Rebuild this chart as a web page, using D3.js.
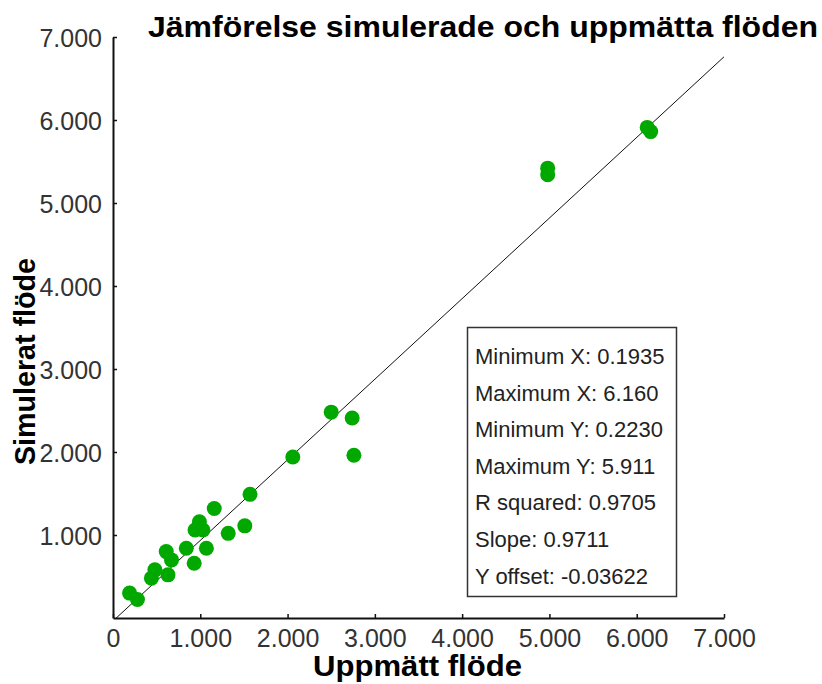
<!DOCTYPE html>
<html>
<head>
<meta charset="utf-8">
<script src="https://cdn.jsdelivr.net/npm/d3@7"></script>
<style>
  body { margin: 0; background: #fff; }
  svg text { font-family: "Liberation Sans", Arial, sans-serif; }
</style>
</head>
<body>
<div id="chart"></div>
<script>
"use strict";

// measured (x) vs simulated (y) flows
const measured = [0.19, 0.28, 0.44, 0.48, 0.63, 0.61, 0.67, 0.84, 0.93, 1.07, 0.94, 0.99, 1.03, 1.16,
  1.32, 1.51, 1.57, 2.06, 2.50, 2.74, 2.76, 4.98, 4.98, 6.12, 6.16];
const simulated = [0.30, 0.223, 0.48, 0.58, 0.52, 0.80, 0.70, 0.84, 0.66, 0.84, 1.06, 1.16, 1.06, 1.32,
  1.02, 1.11, 1.49, 1.94, 2.48, 2.41, 1.96, 5.42, 5.34, 5.911, 5.86];
const xTicks = [0, 1, 2, 3, 4, 5, 6, 7];
const yTicks = [1, 2, 3, 4, 5, 6, 7];
const fitSlope = 0.9711;
const fitOffset = -0.03622;
const statLines = [
  "Minimum X: 0.1935",
  "Maximum X: 6.160",
  "Minimum Y: 0.2230",
  "Maximum Y: 5.911",
  "R squared: 0.9705",
  "Slope: 0.9711",
  "Y offset: -0.03622"
];

const w = 822, h = 684;
const svg = d3.select("#chart").append("svg").attr("width", w).attr("height", h);

const x = d3.scaleLinear().domain([0, 7]).range([113, 724]);
const y = d3.scaleLinear().domain([0, 7]).range([618, 37]);
const fmt = (v) => (v === 0 ? "0" : d3.format(".3f")(v));

svg.append("defs").append("clipPath").attr("id", "plot")
  .append("rect").attr("x", x(0)).attr("y", y(7)).attr("width", x(7) - x(0)).attr("height", y(0) - y(7));

// regression line
svg.append("line")
  .attr("clip-path", "url(#plot)")
  .attr("x1", x(0)).attr("y1", y(fitOffset))
  .attr("x2", x(7)).attr("y2", y(fitSlope * 7 + fitOffset))
  .attr("stroke", "#111").attr("stroke-width", 1);

// points
svg.append("g").selectAll("circle")
  .data(measured.map((m, i) => [m, simulated[i]]))
  .enter().append("circle")
  .attr("cx", (d) => x(d[0]))
  .attr("cy", (d) => y(d[1]))
  .attr("r", 7.5)
  .attr("fill", "#00a800");

// axes
const xAxis = svg.append("g").attr("transform", `translate(0,${y(0)})`)
  .call(d3.axisBottom(x).tickValues(xTicks).tickFormat(fmt).tickSizeInner(-4).tickSizeOuter(0).tickPadding(11));
const yAxis = svg.append("g").attr("transform", `translate(${x(0)},0)`)
  .call(d3.axisLeft(y).tickValues(yTicks).tickFormat(fmt).tickSizeInner(4).tickSizeOuter(0).tickPadding(7));
yAxis.selectAll(".tick line").attr("x2", 4);

[xAxis, yAxis].forEach((g) => {
  g.select(".domain").attr("stroke", "#111").attr("stroke-width", 2);
  g.selectAll(".tick line").attr("stroke", "#111").attr("stroke-width", 1.5);
  g.selectAll("text").attr("font-size", 25).attr("fill", "#333")
    .style("font-family", "'Liberation Sans', Arial, sans-serif");
});
yAxis.selectAll("text").attr("dy", "0.36em");

// titles
const bold = (sel) => sel.attr("font-size", 29).attr("font-weight", "bold")
  .attr("lengthAdjust", "spacingAndGlyphs");
svg.append("text").attr("x", 148).attr("y", 37).call(bold).attr("textLength", 670)
  .text("Jämförelse simulerade och uppmätta flöden");
svg.append("text").attr("x", 313).attr("y", 676).call(bold).attr("textLength", 209)
  .text("Uppmätt flöde");
svg.append("text").attr("transform", "translate(35,465) rotate(-90)").call(bold).attr("textLength", 207)
  .text("Simulerat flöde");

// stats box
const box = svg.append("g");
box.append("rect").attr("x", 467.5).attr("y", 327.5).attr("width", 209).attr("height", 269)
  .attr("fill", "#fff").attr("stroke", "#333").attr("stroke-width", 1.5);
box.selectAll("text").data(statLines).enter().append("text")
  .attr("x", 475).attr("y", (d, i) => 364 + i * 36.6)
  .attr("font-size", 22).attr("fill", "#222").text((d) => d);
</script>
</body>
</html>
